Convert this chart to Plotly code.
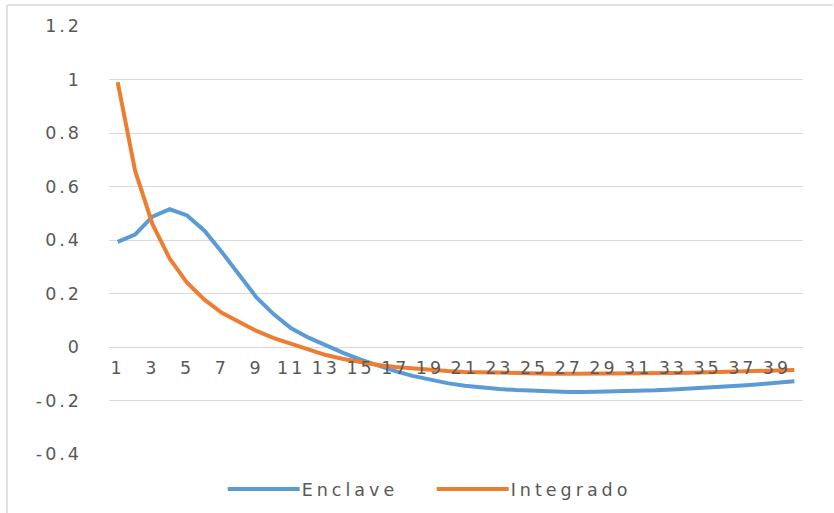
import plotly.graph_objects as go

periods = list(range(1, 41))
enclave = [0.393, 0.42, 0.487, 0.515, 0.492, 0.435, 0.355, 0.27, 0.185, 0.122,
           0.07, 0.035, 0.005, -0.022, -0.047, -0.07, -0.09, -0.108, -0.122, -0.135,
           -0.145, -0.152, -0.157, -0.161, -0.164, -0.166, -0.168, -0.168, -0.167, -0.166,
           -0.164, -0.162, -0.159, -0.156, -0.153, -0.149, -0.144, -0.139, -0.134, -0.128]
integrado = [0.99, 0.66, 0.46, 0.33, 0.24, 0.177, 0.128, 0.092, 0.06, 0.033,
             0.012, -0.01, -0.03, -0.045, -0.057, -0.067, -0.075, -0.081, -0.086, -0.09,
             -0.093, -0.095, -0.097, -0.098, -0.099, -0.1, -0.1, -0.1, -0.1, -0.1,
             -0.099, -0.098, -0.097, -0.096, -0.095, -0.094, -0.092, -0.09, -0.088, -0.086]
x_tick_vals = list(range(1, 40, 2))
y_tick_vals = [-0.4, -0.2, 0, 0.2, 0.4, 0.6, 0.8, 1, 1.2]
y_tick_text = ["-0.4", "-0.2", "0", "0.2", "0.4", "0.6", "0.8", "1", "1.2"]

def sp(t, ls=3):
    return f'<span style="letter-spacing:{ls}px">{t}</span>'

FONT = "DejaVu Sans"
TXT = "#595959"
FS = 17.5

fig = go.Figure()
fig.add_trace(go.Scatter(x=periods, y=enclave, mode="lines", name=sp("Enclave", 4),
                         line=dict(color="#5B9BD5", width=4)))
fig.add_trace(go.Scatter(x=periods, y=integrado, mode="lines", name=sp("Integrado", 4),
                         line=dict(color="#ED7D31", width=4)))

fig.update_layout(
    width=834, height=513,
    margin=dict(l=109, r=31, t=26, b=59, autoexpand=False),
    paper_bgcolor="white", plot_bgcolor="white",
    font=dict(family=FONT, size=FS, color=TXT),
    showlegend=True,
    legend=dict(orientation="h", x=0.465, xanchor="center", y=-0.082, yanchor="middle",
                font=dict(family=FONT, size=FS, color=TXT), itemwidth=69,
                entrywidth=125, entrywidthmode="pixels",
                bgcolor="rgba(0,0,0,0)"),
    xaxis=dict(range=[0.5, 40.5], tickmode="array", tickvals=x_tick_vals,
               ticktext=[sp(str(v)) for v in x_tick_vals],
               showgrid=False, zeroline=False, showline=False, ticks="",
               anchor="free", position=0.25, ticklabelstandoff=8, automargin=False,
               tickfont=dict(family=FONT, size=FS, color=TXT)),
    yaxis=dict(range=[-0.4, 1.2], tickmode="array", tickvals=y_tick_vals,
               ticktext=[sp(t) for t in y_tick_text],
               showgrid=True, gridcolor="#D9D9D9", gridwidth=1.3, automargin=False,
               zeroline=False, showline=False, ticks="", ticklabelstandoff=26,
               tickfont=dict(family=FONT, size=FS, color=TXT)),
    shapes=[dict(type="line", xref="paper", yref="paper",
                 x0=-0.147, x1=-0.147, y0=-0.2, y1=1.049,
                 line=dict(color="#D9D9D9", width=1.5), layer="above"),
            dict(type="line", xref="paper", yref="paper",
                 x0=-0.147, x1=1.043, y0=1.049, y1=1.049,
                 line=dict(color="#D9D9D9", width=1.5), layer="above")],
)

post = """
document.body.style.margin = '0';
document.documentElement.style.margin = '0';
var gd = document.getElementById('{plot_id}');
gd.querySelectorAll('.legendlines path').forEach(function(p){ p.setAttribute('d','M5,0h72'); });
"""
fig.write_html("out.html", post_script=post, config={"displayModeBar": False})
